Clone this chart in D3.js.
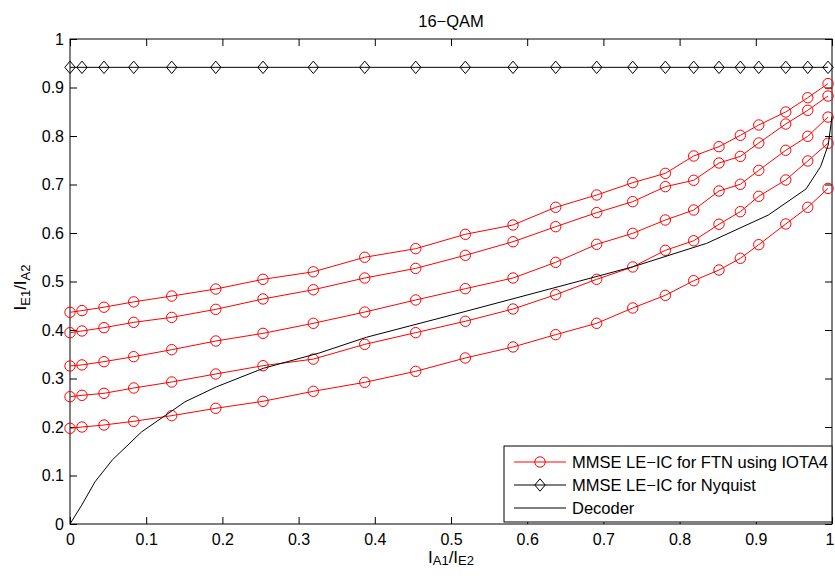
<!DOCTYPE html>
<html>
<head>
<meta charset="utf-8">
<script src="https://cdn.jsdelivr.net/npm/d3@7"></script>
<style>
  html, body { margin: 0; padding: 0; background: #fff; }
  svg { display: block; font-family: "Liberation Sans", Arial, Helvetica, sans-serif; }
</style>
</head>
<body>
<svg id="chart" width="835" height="576"></svg>
<script>
// ---- data ----
const titleText = "16\u2212QAM";
const xTickValues = [0, 0.1, 0.2, 0.3, 0.4, 0.5, 0.6, 0.7, 0.8, 0.9, 1];
const xTickLabels = ["0", "0.1", "0.2", "0.3", "0.4", "0.5", "0.6", "0.7", "0.8", "0.9", "1"];
const yTickValues = [0, 0.1, 0.2, 0.3, 0.4, 0.5, 0.6, 0.7, 0.8, 0.9, 1];
const yTickLabels = ["0", "0.1", "0.2", "0.3", "0.4", "0.5", "0.6", "0.7", "0.8", "0.9", "1"];

// shared input mutual information values (x) for both MMSE curves
const iaValues = [0, 0.0157, 0.0446, 0.0836, 0.1335, 0.1913, 0.2533, 0.3193, 0.3868, 0.4537,
  0.5188, 0.5814, 0.6374, 0.6912, 0.7385, 0.7813, 0.8185, 0.8517, 0.8797, 0.9039,
  0.9393, 0.9682, 0.9948];

// MMSE LE-IC for FTN using IOTA4 (five curves)
const ftnCurve1 = [0.4365, 0.440, 0.447, 0.458, 0.470, 0.4845, 0.5045, 0.520, 0.550, 0.5677,
  0.5973, 0.6165, 0.653, 0.6784, 0.7038, 0.723, 0.7588, 0.778, 0.8014, 0.8227, 0.8495, 0.879, 0.908];
const ftnCurve2 = [0.3945, 0.398, 0.4048, 0.4158, 0.426, 0.4426, 0.464, 0.483, 0.5072, 0.527,
  0.554, 0.582, 0.613, 0.642, 0.6646, 0.6955, 0.7087, 0.7443, 0.758, 0.7856, 0.8247, 0.853, 0.8825];
const ftnCurve3 = [0.3258, 0.328, 0.3347, 0.345, 0.3594, 0.3773, 0.3931, 0.4138, 0.437, 0.4619,
  0.4852, 0.5072, 0.5395, 0.5767, 0.5993, 0.6268, 0.6474, 0.6866, 0.7004, 0.7292, 0.7705, 0.7994, 0.839];
const ftnCurve4 = [0.2625, 0.2653, 0.2694, 0.2804, 0.2928, 0.3093, 0.3264, 0.340, 0.3704, 0.3945,
  0.418, 0.4433, 0.4728, 0.5045, 0.530, 0.5643, 0.584, 0.618, 0.644, 0.6757, 0.7093, 0.7485, 0.785];
const ftnCurve5 = [0.1973, 0.200, 0.2041, 0.2117, 0.2234, 0.2385, 0.253, 0.2736, 0.2921, 0.3148,
  0.3423, 0.365, 0.3904, 0.4138, 0.4454, 0.4715, 0.5017, 0.5237, 0.5478, 0.5759, 0.6186, 0.653, 0.692];

// MMSE LE-IC for Nyquist
const nyquistValues = [0.9416, 0.9416, 0.9416, 0.9416, 0.9416, 0.9416, 0.9416, 0.9416, 0.9416, 0.9416,
  0.9416, 0.9416, 0.9416, 0.9416, 0.9416, 0.9416, 0.9416, 0.9416, 0.9416, 0.9416, 0.9416, 0.9416, 0.9416];

// Decoder curve
const decoderX = [0, 0.0154, 0.0328, 0.0555, 0.094, 0.151, 0.1925, 0.2537, 0.328, 0.389,
  0.5206, 0.669, 0.739, 0.8355, 0.9164, 0.9659, 0.985, 0.995, 1.0];
const decoderY = [0, 0.039, 0.087, 0.132, 0.190, 0.252, 0.283, 0.321, 0.353, 0.385,
  0.439, 0.501, 0.5305, 0.5787, 0.637, 0.6907, 0.7368, 0.7814, 0.84];

const legendLabels = ["MMSE LE\u2212IC for FTN using IOTA4", "MMSE LE\u2212IC for Nyquist", "Decoder"];

// ---- layout ----
const svg = d3.select("#chart");
const L = 70, R = 832, T = 39, B = 524;
const x = d3.scaleLinear().domain([0, 1]).range([L, R]);
const y = d3.scaleLinear().domain([0, 1]).range([B, T]);
const FS = 16;
const FSL = 16.5;

// title
svg.append("text").attr("x", (L + R) / 2).attr("y", 27)
  .attr("text-anchor", "middle").attr("font-size", FSL).attr("fill", "#000").text(titleText);

// axes
const fmtX = (d, i) => xTickLabels[i];
const fmtY = (d, i) => yTickLabels[i];
const axB = svg.append("g").attr("transform", `translate(0,${B})`)
  .call(d3.axisBottom(x).tickValues(xTickValues).tickFormat(fmtX).tickSize(-7).tickPadding(10));
const axT = svg.append("g").attr("transform", `translate(0,${T})`)
  .call(d3.axisTop(x).tickValues(xTickValues).tickFormat("").tickSize(-7));
const axLft = svg.append("g").attr("transform", `translate(${L},0)`)
  .call(d3.axisLeft(y).tickValues(yTickValues).tickFormat(fmtY).tickSize(-7).tickPadding(6));
const axRt = svg.append("g").attr("transform", `translate(${R},0)`)
  .call(d3.axisRight(y).tickValues(yTickValues).tickFormat("").tickSize(-7));
[axB, axT, axLft, axRt].forEach(g => {
  g.select(".domain").remove();
  g.selectAll(".tick line").attr("stroke", "#000").attr("stroke-width", 1);
  g.selectAll(".tick text").attr("font-size", FS).attr("fill", "#000")
    .attr("font-family", '"Liberation Sans", Arial, Helvetica, sans-serif');
});
// keep the last x tick label inside the canvas
axB.selectAll(".tick text").filter((d, i) => i === xTickValues.length - 1).attr("dx", -2.5);

svg.append("rect").attr("x", L).attr("y", T).attr("width", R - L).attr("height", B - T)
  .attr("fill", "none").attr("stroke", "#000").attr("stroke-width", 1);

// axis labels
const xl = svg.append("text").attr("x", (L + R) / 2).attr("y", 563)
  .attr("text-anchor", "middle").attr("font-size", 17).attr("fill", "#000");
xl.append("tspan").text("I");
xl.append("tspan").attr("font-size", 13).attr("dy", 2).text("A1");
xl.append("tspan").attr("dy", -2).text("/I");
xl.append("tspan").attr("font-size", 13).attr("dy", 2).text("E2");

const yl = svg.append("text").attr("transform", `translate(26,${(T + B) / 2 + 6}) rotate(-90)`)
  .attr("text-anchor", "middle").attr("font-size", 17).attr("fill", "#000");
yl.append("tspan").text("I");
yl.append("tspan").attr("font-size", 13).attr("dy", 4).text("E1");
yl.append("tspan").attr("dy", -4).text("/I");
yl.append("tspan").attr("font-size", 13).attr("dy", 4).text("A2");

// series
const lineGen = d3.line().x(d => x(d[0])).y(d => y(d[1]));
const ftnCurves = [ftnCurve1, ftnCurve2, ftnCurve3, ftnCurve4, ftnCurve5];
const diamond = (cx, cy) => `M${cx},${cy - 6.2}L${cx + 5.2},${cy}L${cx},${cy + 6.2}L${cx - 5.2},${cy}Z`;

ftnCurves.forEach(vals => {
  const pts = iaValues.map((v, i) => [v, vals[i]]);
  svg.append("path").datum(pts).attr("d", lineGen)
    .attr("fill", "none").attr("stroke", "#ff0000").attr("stroke-width", 1);
  svg.append("g").selectAll("circle").data(pts).join("circle")
    .attr("cx", d => x(d[0])).attr("cy", d => y(d[1])).attr("r", 5.2)
    .attr("fill", "none").attr("stroke", "#ff0000").attr("stroke-width", 1);
});

const nyPts = iaValues.map((v, i) => [v, nyquistValues[i]]);
svg.append("path").datum(nyPts).attr("d", lineGen)
  .attr("fill", "none").attr("stroke", "#000").attr("stroke-width", 1);
svg.append("g").selectAll("path").data(nyPts).join("path")
  .attr("d", d => diamond(x(d[0]), y(d[1])))
  .attr("fill", "none").attr("stroke", "#000").attr("stroke-width", 1);

const decPts = decoderX.map((v, i) => [v, decoderY[i]]);
svg.append("path").datum(decPts).attr("d", lineGen)
  .attr("fill", "none").attr("stroke", "#000").attr("stroke-width", 1);

// legend
const lg = svg.append("g");
lg.append("rect").attr("x", 504).attr("y", 446).attr("width", R - 504).attr("height", 76)
  .attr("fill", "#fff").attr("stroke", "#000").attr("stroke-width", 1);
const rowsY = [462, 485, 508];
const lx0 = 514, lx1 = 566, lmx = 540, ltx = 572;
legendLabels.forEach((lab, i) => {
  const cy = rowsY[i];
  const col = i === 0 ? "#ff0000" : "#000";
  lg.append("line").attr("x1", lx0).attr("x2", lx1).attr("y1", cy).attr("y2", cy)
    .attr("stroke", col).attr("stroke-width", 1);
  if (i === 0) lg.append("circle").attr("cx", lmx).attr("cy", cy).attr("r", 5.2)
    .attr("fill", "none").attr("stroke", col);
  if (i === 1) lg.append("path").attr("d", diamond(lmx, cy)).attr("fill", "none").attr("stroke", col);
  lg.append("text").attr("x", ltx).attr("y", cy).attr("dy", "0.36em")
    .attr("font-size", FSL).attr("fill", "#000").text(lab);
});
</script>
</body>
</html>
